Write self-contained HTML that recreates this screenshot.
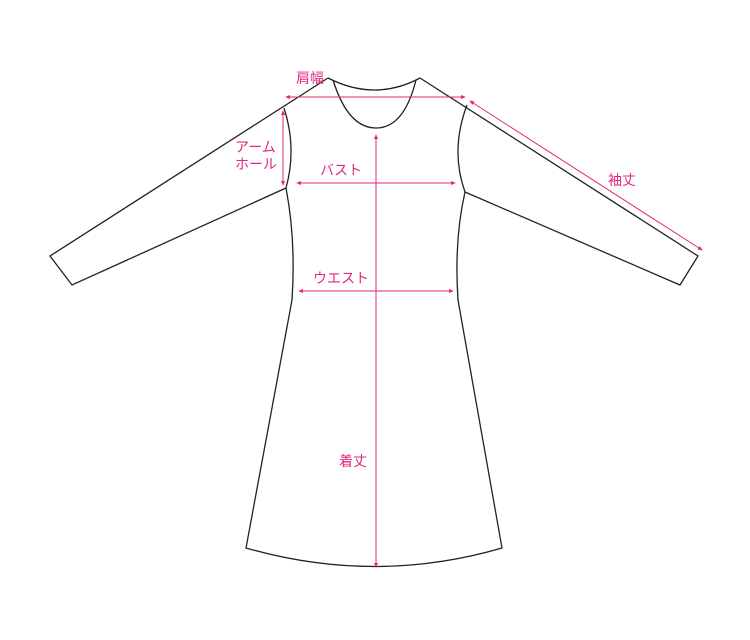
<!DOCTYPE html>
<html><head><meta charset="utf-8"><style>
html,body{margin:0;padding:0;background:#fff;}
svg{display:block;}
text{font-family:"Liberation Sans","Noto Sans CJK JP",sans-serif;font-size:14px;fill:#e4267f;}
</style></head><body>
<svg width="750" height="640" viewBox="0 0 750 640" xmlns="http://www.w3.org/2000/svg">
<defs>
<marker id="a" viewBox="0 0 6 6" refX="5" refY="3" markerWidth="5" markerHeight="5" orient="auto-start-reverse"><path d="M0,0.5 L6,3 L0,5.5 Z" fill="#e4267f"/></marker>
</defs>
<g fill="none" stroke="#222" stroke-width="1.3">
<path d="M328,78 Q375,102 420,78"/>
<path d="M333,80 Q348,128 376,128 Q404,128 416,80"/>
<path d="M328,78 L50,256 L72,285 L286,188"/>
<path d="M420,78 L698,256 L680,285 L465,192"/>
<path d="M284,108 Q297,148 286,188"/>
<path d="M467,105 Q450,150 465,192"/>
<path d="M286,188 Q296,240 292,300 L246,548 Q375,585 502,548 L458,300 Q454,240 465,192"/>
</g>
<g stroke="#e4267f" stroke-width="1" fill="none">
<line x1="286" y1="97" x2="465" y2="97" marker-start="url(#a)" marker-end="url(#a)"/>
<line x1="283" y1="111" x2="283" y2="185" marker-start="url(#a)" marker-end="url(#a)"/>
<line x1="297" y1="183" x2="455" y2="183" marker-start="url(#a)" marker-end="url(#a)"/>
<line x1="299" y1="291" x2="453" y2="291" marker-start="url(#a)" marker-end="url(#a)"/>
<line x1="376" y1="135" x2="376" y2="567" marker-start="url(#a)" marker-end="url(#a)"/>
<line x1="470" y1="101" x2="702" y2="250" marker-start="url(#a)" marker-end="url(#a)"/>
</g>
<text x="296" y="83">肩幅</text>
<text x="235" y="152">アーム</text>
<text x="235" y="169">ホール</text>
<text x="320" y="175">バスト</text>
<text x="313" y="283">ウエスト</text>
<text x="339" y="466">着丈</text>
<text x="608" y="185">袖丈</text>
</svg>
</body></html>
